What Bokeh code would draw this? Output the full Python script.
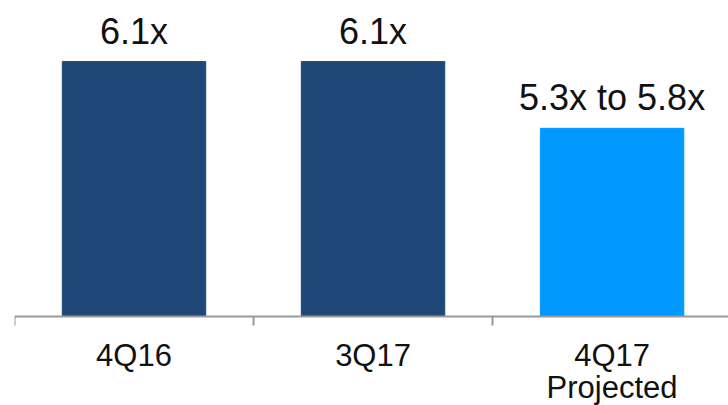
from bokeh.plotting import figure
from bokeh.models import ColumnDataSource, LinearAxis, FixedTicker, Range1d, LabelSet
from bokeh.core.properties import value
from bokeh.embed import file_html
from bokeh.resources import INLINE

categories = ["4Q16", "3Q17", "4Q17\nProjected"]
values = [6.1, 6.1, 5.55]          # third bar: midpoint of the 5.3x-5.8x range
value_labels = ["6.1x", "6.1x", "5.3x to 5.8x"]
colors = ["#1F4878", "#1F4878", "#0099FF"]
y_base = 4.0

xs = [i + 0.5 for i in range(len(categories))]
src = ColumnDataSource(dict(x=xs, top=values, label=value_labels, color=colors,
                            base=[y_base] * len(categories)))

p = figure(width=728, height=405, output_backend="svg", toolbar_location=None,
           x_range=Range1d(0, 2.987), y_range=Range1d(3.267, 6.603),
           min_border_left=14, min_border_right=0, min_border_top=0, min_border_bottom=0,
           x_axis_type=None, y_axis_type=None)
p.outline_line_color = None
p.xgrid.visible = False
p.ygrid.visible = False
p.background_fill_color = "white"
p.border_fill_color = "white"

p.vbar(x="x", top="top", bottom="base", width=0.6, color="color", source=src)
p.add_layout(LabelSet(x="x", y="top", text="label", source=src, text_align="center",
                      text_baseline="alphabetic", y_offset=18,
                      text_font=value("Liberation Sans"),
                      text_font_size="36px", text_color="#111111"))

ax = LinearAxis(ticker=FixedTicker(ticks=xs, minor_ticks=[0, 1, 2, 3]),
                fixed_location=y_base)
ax.major_label_overrides = {x: c for x, c in zip(xs, categories)}
ax.major_tick_out = 0
ax.major_tick_in = 0
ax.minor_tick_out = 9
ax.minor_tick_in = 0
ax.minor_tick_line_color = "#999999"
ax.minor_tick_line_width = 2
ax.axis_line_color = "#999999"
ax.axis_line_width = 2
ax.major_label_standoff = 12
ax.major_label_text_font = "Liberation Sans"
ax.major_label_text_font_size = "31px"
ax.major_label_text_color = "#111111"
ax.major_label_text_line_height = 0.93
p.add_layout(ax, "below")

open("out.html", "w").write(file_html(p, INLINE))
